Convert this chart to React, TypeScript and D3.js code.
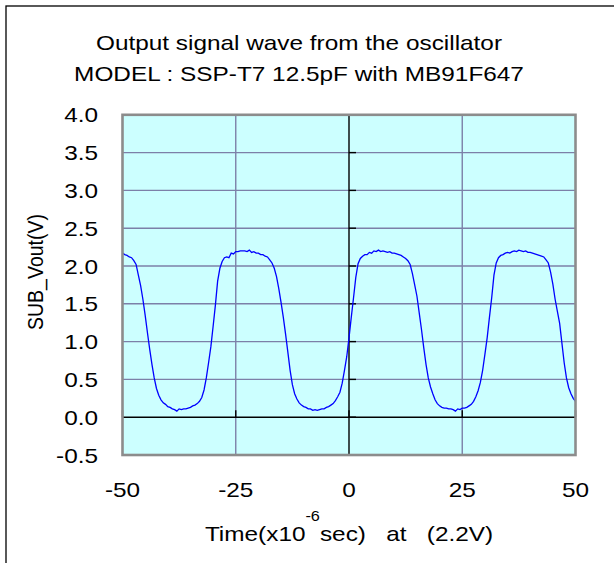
import React from "react";
import * as d3 from "d3";

const titleLines = ["Output signal wave from the oscillator", "MODEL : SSP-T7 12.5pF with MB91F647"];
const yTicks = [-0.5, 0, 0.5, 1.0, 1.5, 2.0, 2.5, 3.0, 3.5, 4.0];
const xTicks = [-50, -25, 0, 25, 50];
const yLabel = "SUB_Vout(V)";

// oscilloscope samples: time (µs) starting at -50, every 0.5 µs
const sampleStart = -50;
const sampleStep = 0.5;
const volts = [
  2.17, 2.15, 2.14, 2.12, 2.11, 2.07, 2.02, 1.88, 1.74, 1.56,
  1.35, 1.12, 0.90, 0.70, 0.52, 0.38, 0.29, 0.23, 0.19, 0.17,
  0.14, 0.13, 0.11, 0.10, 0.08, 0.11, 0.10, 0.11, 0.11, 0.12,
  0.13, 0.15, 0.16, 0.18, 0.21, 0.26, 0.36, 0.52, 0.72, 0.93,
  1.20, 1.48, 1.80, 1.97, 2.06, 2.11, 2.12, 2.11, 2.17, 2.16,
  2.19, 2.19, 2.20, 2.20, 2.20, 2.19, 2.21, 2.18, 2.19, 2.17,
  2.17, 2.15, 2.15, 2.13, 2.12, 2.08, 2.04, 1.97, 1.86, 1.70,
  1.52, 1.32, 1.10, 0.86, 0.62, 0.43, 0.31, 0.24, 0.19, 0.16,
  0.14, 0.13, 0.11, 0.11, 0.09, 0.10, 0.09, 0.10, 0.11, 0.11,
  0.13, 0.14, 0.16, 0.18, 0.22, 0.27, 0.33, 0.45, 0.62, 0.80,
  1.05, 1.32, 1.58, 1.85, 2.03, 2.10, 2.13, 2.15, 2.15, 2.18,
  2.17, 2.20, 2.19, 2.21, 2.19, 2.20, 2.19, 2.18, 2.19, 2.17,
  2.17, 2.16, 2.15, 2.14, 2.12, 2.10, 2.07, 2.02, 1.90, 1.75,
  1.60, 1.38, 1.16, 0.92, 0.70, 0.52, 0.40, 0.31, 0.23, 0.18,
  0.15, 0.13, 0.12, 0.12, 0.11, 0.11, 0.10, 0.08, 0.11, 0.10,
  0.12, 0.12, 0.13, 0.15, 0.17, 0.21, 0.27, 0.35, 0.46, 0.62,
  0.83, 1.05, 1.32, 1.58, 1.88, 2.04, 2.11, 2.14, 2.15, 2.17,
  2.18, 2.17, 2.19, 2.20, 2.19, 2.21, 2.20, 2.19, 2.20, 2.18,
  2.18, 2.17, 2.16, 2.15, 2.14, 2.13, 2.12, 2.08, 2.04, 1.92,
  1.76, 1.56, 1.40, 1.24, 0.98, 0.72, 0.52, 0.39, 0.31, 0.25,
  0.21,
];

const FONT = "'Liberation Sans', Arial, sans-serif";
const FS = 21;
const SX = 1.16;

export default function App() {
  const W = 614, H = 563;
  const x = d3.scaleLinear().domain([-50, 50]).range([122.5, 575.5]);
  const y = d3.scaleLinear().domain([-0.5, 4]).range([455, 114.8]);
  const data = volts.map((v, i) => ({ t: sampleStart + i * sampleStep, v }));
  const line = d3.line<{ t: number; v: number }>().x(d => x(d.t)).y(d => y(d.v));
  const x0 = x(0), y0 = y(0);
  const fmt = (v: number) => d3.format(".1f")(v).replace("\u2212", "-");
  const gridColor = "#7C80A8";

  return (
    <svg width={W} height={H} style={{ position: "absolute", left: 0, top: 0, display: "block", background: "#fff" }}>
      <rect x={6} y={6} width={W} height={H} fill="#fff" stroke="#000" strokeWidth={1.3} />
      {titleLines.map((t, i) => (
        <g key={t} transform={`translate(299,${50 + i * 31}) scale(${SX},1)`}>
          <text textAnchor="middle" fontFamily={FONT} fontSize={FS} fill="#000">{t}</text>
        </g>
      ))}
      {/* plot area */}
      <rect x={x(-50)} y={y(4)} width={x(50) - x(-50)} height={y(-0.5) - y(4)} fill="#CCFFFF" />
      {yTicks.filter(v => v !== 0 && v !== -0.5 && v !== 4).map(v => (
        <line key={"gy" + v} x1={x(-50)} x2={x(50)} y1={y(v)} y2={y(v)} stroke={gridColor} strokeWidth={1.4} />
      ))}
      {xTicks.filter(v => v !== 0 && Math.abs(v) !== 50).map(v => (
        <line key={"gx" + v} x1={x(v)} x2={x(v)} y1={y(4)} y2={y(-0.5)} stroke={gridColor} strokeWidth={1.4} />
      ))}
      {/* axes through zero */}
      <line x1={x(-50)} x2={x(50)} y1={y0} y2={y0} stroke="#000" strokeWidth={1.4} />
      <line x1={x0} x2={x0} y1={y(4)} y2={y(-0.5)} stroke="#000" strokeWidth={1.4} />
      {yTicks.map(v => (
        <line key={"ty" + v} x1={x0} x2={x0 + 7} y1={y(v)} y2={y(v)} stroke="#000" strokeWidth={1.4} />
      ))}
      {xTicks.map(v => (
        <line key={"tx" + v} x1={x(v)} x2={x(v)} y1={y0} y2={y0 - 7} stroke="#000" strokeWidth={1.4} />
      ))}
      <path d={line(data) ?? ""} fill="none" stroke="#0000FF" strokeWidth={1.3} />
      <rect x={x(-50)} y={y(4)} width={x(50) - x(-50)} height={y(-0.5) - y(4)} fill="none" stroke="#8C8C8C" strokeWidth={2.6} />
      {/* y tick labels */}
      {yTicks.map(v => (
        <g key={"ly" + v} transform={`translate(98,${y(v) + 7.5}) scale(${SX},1)`}>
          <text textAnchor="end" fontFamily={FONT} fontSize={FS} fill="#000">{fmt(v)}</text>
        </g>
      ))}
      {/* x tick labels */}
      {xTicks.map(v => (
        <g key={"lx" + v} transform={`translate(${x(v)},497) scale(${SX},1)`}>
          <text textAnchor="middle" fontFamily={FONT} fontSize={FS} fill="#000">{String(v)}</text>
        </g>
      ))}
      {/* axis titles */}
      <g transform={`translate(43,272) scale(${SX},1) rotate(-90)`}>
        <text textAnchor="middle" fontFamily={FONT} fontSize={19.5} fill="#000">{yLabel}</text>
      </g>
      <g transform={`translate(349,541) scale(${SX},1)`}>
        <text textAnchor="middle" fontFamily={FONT} fontSize={FS} fill="#000" style={{ whiteSpace: "pre" }}>
          <tspan>Time(x10</tspan>
          <tspan fontSize={14} dy={-20}>-6</tspan>
          <tspan dy={20}>{"sec)   at   (2.2V)"}</tspan>
        </text>
      </g>
    </svg>
  );
}
